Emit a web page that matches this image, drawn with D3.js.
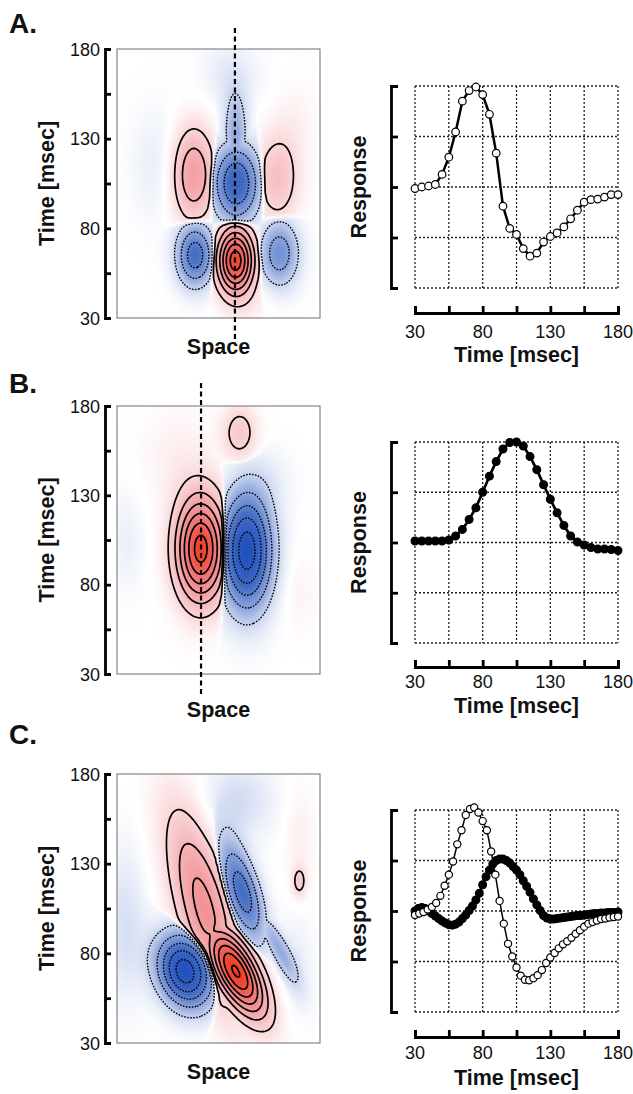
<!DOCTYPE html>
<html>
<head>
<meta charset="utf-8">
<script src="https://cdn.jsdelivr.net/npm/d3@7"></script>
<style>
  body { margin: 0; background: #fff; }
  text { font-family: "Liberation Sans", Arial, Helvetica, sans-serif; fill: #111; }
</style>
</head>
<body>
<svg id="fig" width="633" height="1094"></svg>
<script>
// ---- data ----
var timeTicks = [30, 80, 130, 180];               // labelled ticks (msec)
var timeMinor = [30, 55, 80, 105, 130, 155, 180]; // all ticks / grid lines
var responseTicks = [-2, -1, 0, 1, 2];           // unlabelled response axis

// A: response at the dashed line (open circles, every 5 msec)
var timesA = d3.range(30, 181, 5);
var respA = [-0.03, 0.00, 0.02, 0.05, 0.25, 0.59, 1.09, 1.70, 1.91, 1.98, 1.83,
             1.44, 0.67, -0.38, -0.82, -0.94, -1.22, -1.37, -1.31, -1.09, -0.98,
             -0.91, -0.79, -0.63, -0.46, -0.30, -0.25, -0.24, -0.20, -0.15, -0.15];

// B: filled circles, every 5 msec
var timesB = d3.range(30, 181, 5);
var respB = [0.03, 0.03, 0.03, 0.03, 0.03, 0.05, 0.13, 0.26, 0.46, 0.69, 1.00,
             1.32, 1.61, 1.86, 1.99, 2.00, 1.92, 1.71, 1.45, 1.15, 0.86,
             0.59, 0.34, 0.13, 0.01, -0.05, -0.10, -0.13, -0.13, -0.14, -0.16];

// C: open circles (3.125 msec steps) and filled circles (2.5 msec steps)
var timesCopen = d3.range(49).map(function(i) { return 30 + i * 3.125; });
var respCopen = [-0.08, -0.05, -0.02, 0.03, 0.08, 0.16, 0.30, 0.50, 0.72, 0.98,
                 1.32, 1.60, 1.90, 2.02, 2.05, 1.95, 1.78, 1.60, 1.18, 0.72,
                 0.20, -0.25, -0.65, -0.90, -1.12, -1.28, -1.36, -1.37, -1.33, -1.27,
                 -1.17, -1.03, -0.92, -0.83, -0.74, -0.66, -0.60, -0.53, -0.45, -0.38,
                 -0.31, -0.25, -0.22, -0.19, -0.16, -0.15, -0.13, -0.12, -0.11];
var timesCfill = d3.range(61).map(function(i) { return 30 + i * 2.5; });
var respCfill = [0.00, 0.05, 0.07, 0.05, 0.00, -0.05, -0.10, -0.15, -0.20, -0.24,
                 -0.27, -0.28, -0.26, -0.22, -0.15, -0.08, 0.01, 0.10, 0.22, 0.35,
                 0.52, 0.68, 0.81, 0.93, 1.00, 1.03, 1.03, 1.00, 0.95, 0.88,
                 0.81, 0.72, 0.60, 0.49, 0.37, 0.24, 0.12, 0.01, -0.09, -0.14,
                 -0.16, -0.16, -0.15, -0.14, -0.13, -0.12, -0.11, -0.10, -0.09, -0.09,
                 -0.08, -0.07, -0.06, -0.05, -0.05, -0.04, -0.04, -0.03, -0.03, -0.03, -0.02];

// receptive-field lobes: [space (0-1), time (msec), sd space, sd time, tilt rho, amplitude]
var lobesA = [
  [0.584, 62, 0.062, 12.5, 0, 0.92],
  [0.385, 65, 0.063, 12, 0, -0.50],
  [0.800, 66, 0.068, 13, 0, -0.36],
  [0.588, 105, 0.080, 15, 0, -0.56],
  [0.585, 132, 0.042, 16, 0, -0.25],
  [0.376, 110, 0.072, 18, 0, 0.40],
  [0.790, 108, 0.074, 17, 0, 0.24]
];
var lobesB = [
  [0.413, 100, 0.083, 20, 0, 0.90],
  [0.640, 99, 0.086, 22.4, 0, -0.78],
  [0.605, 165, 0.060, 10.7, 0, 0.20]
];
var lobesC = [
  [0.585, 70, 0.100, 17, -0.65, 1.00],
  [0.430, 105, 0.120, 36, -0.65, 0.47],
  [0.335, 70, 0.095, 14, -0.20, -0.78],
  [0.618, 114, 0.075, 19, -0.60, -0.50],
  [0.790, 84, 0.070, 14, -0.85, -0.24],
  [0.898, 120, 0.025, 6, 0, 0.18]
];
// faint background tints, simply added on top: same columns as the lobes
var tintsA = [
  [0.200, 115, 0.090, 22, 0, -0.06],
  [0.560, 165, 0.100, 14, 0, -0.07],
  [0.880, 140, 0.070, 15, 0, 0.04],
  [0.650, 38, 0.080, 8, 0, 0.04]
];
var tintsB = [
  [0.300, 150, 0.120, 20, 0, 0.05],
  [0.050, 105, 0.060, 20, 0, -0.05],
  [0.900, 75, 0.060, 15, 0, 0.04],
  [0.760, 140, 0.080, 12, 0, -0.04]
];
var tintsC = [
  [0.600, 165, 0.120, 15, 0, -0.11],
  [0.040, 95, 0.070, 30, 0, -0.10],
  [0.880, 72, 0.060, 20, 0, -0.06],
  [0.900, 145, 0.050, 20, 0, 0.05]
];

var contourLevels = [0.14, 0.28, 0.42, 0.56, 0.70, 0.84, 0.98];

// ---- layout ----
var rows = [
  { name: "A.", letterY: 33, heatTop: 49, heatBot: 318, dashS: 0.581, dashY: [28, 343], spaceY: 354,
    gridTop: 86, gridBot: 288, axisY: 313, tickLabY: 338, titleY: 362, lobes: lobesA, tints: tintsA,
    series: [{ t: timesA, v: respA, open: true, lw: 2.5, r: 3.8 }] },
  { name: "B.", letterY: 393, heatTop: 406, heatBot: 674, dashS: 0.414, dashY: [383, 695], spaceY: 717,
    gridTop: 442, gridBot: 643, axisY: 667, tickLabY: 688, titleY: 713, lobes: lobesB, tints: tintsB,
    series: [{ t: timesB, v: respB, open: false, lw: 2.7, r: 3.9 }] },
  { name: "C.", letterY: 744, heatTop: 774, heatBot: 1043, dashS: null, spaceY: 1079,
    gridTop: 810, gridBot: 1012, axisY: 1037, tickLabY: 1059, titleY: 1085, lobes: lobesC, tints: tintsC,
    series: [{ t: timesCfill, v: respCfill, open: false, lw: 2.7, r: 3.9 },
             { t: timesCopen, v: respCopen, open: true, lw: 1.5, r: 3.6 }] }
];

var heatX0 = 117, heatX1 = 320, heatAxisX = 105;
var lineX0 = 415, lineX1 = 618, bracketX = 391;

var svg = d3.select("#fig");

var color = d3.scaleLinear()
  .domain([-0.8, -0.5, -0.25, -0.1, 0, 0.1, 0.3, 0.6, 0.95])
  .range(["#1c4dbc", "#416ac3", "#93a9de", "#d8e0f3", "#ffffff", "#fbdfe1", "#f5b1b5", "#f07b7e", "#f03a22"])
  .clamp(true);

function lobe(b, s, t) {
  var dx = (s - b[0]) / b[2], dy = (t - b[1]) / b[3], r = b[4];
  var q = (dx * dx - 2 * r * dx * dy + dy * dy) / (2 * (1 - r * r));
  return b[5] * Math.exp(-q);
}

// lobes are blended by their strength so neighbouring lobes meet at a sharp edge
function field(row, s, t) {
  var num = 0, den = 1e-30;
  row.lobes.forEach(function(b) {
    var g = lobe(b, s, t);
    var w = Math.pow(Math.abs(g), 8);
    num += g * w;
    den += w;
  });
  var v = num / den;
  row.tints.forEach(function(b) { v += lobe(b, s, t); });
  return v;
}

function drawHeat(row) {
  var g = svg.append("g");
  var nx = 102, ny = 135;
  var sScale = d3.scaleLinear().domain([0, 1]).range([heatX0, heatX1]);
  var tScale = d3.scaleLinear().domain([30, 180]).range([row.heatBot, row.heatTop]);

  var vals = new Array(nx * ny);
  for (var j = 0; j < ny; j++) {
    for (var i = 0; i < nx; i++) {
      vals[j * nx + i] = field(row, (i + 0.5) / nx, 180 - (j + 0.5) / ny * 150);
    }
  }
  var cw = (heatX1 - heatX0) / nx, ch = (row.heatBot - row.heatTop) / ny;
  g.selectAll("rect.cell").data(vals).join("rect")
    .attr("class", "cell")
    .attr("x", function(d, k) { return sScale((k % nx) / nx); })
    .attr("y", function(d, k) { return tScale(180 - Math.floor(k / nx) / ny * 150); })
    .attr("width", cw + 0.5)
    .attr("height", ch + 0.5)
    .attr("fill", function(d) { return color(d); });

  // contour lines: solid for positive lobes, dotted for negative ones
  var proj = d3.geoTransform({
    point: function(px, py) { this.stream.point(sScale(px / nx), tScale(180 - py / ny * 150)); }
  });
  var path = d3.geoPath(proj);
  var contours = d3.contours().size([nx, ny]).thresholds(contourLevels);

  g.selectAll("path.pos").data(contours(vals)).join("path")
    .attr("class", "pos")
    .attr("d", path)
    .attr("fill", "none").attr("stroke", "#000").attr("stroke-width", 1.7)
    .attr("stroke-linejoin", "round");
  g.selectAll("path.neg").data(contours(vals.map(function(v) { return -v; }))).join("path")
    .attr("class", "neg")
    .attr("d", path)
    .attr("fill", "none").attr("stroke", "#000").attr("stroke-width", 1.4)
    .attr("stroke-dasharray", "1.6,1.4");

  // frame
  g.append("rect")
    .attr("x", heatX0).attr("y", row.heatTop)
    .attr("width", heatX1 - heatX0).attr("height", row.heatBot - row.heatTop)
    .attr("fill", "none").attr("stroke", "#6f6f6f").attr("stroke-width", 1);

  // time axis (bracket with inward ticks)
  var axis = g.append("g")
    .attr("transform", "translate(" + heatAxisX + ",0)")
    .call(d3.axisRight(tScale).tickValues(timeMinor).tickSize(6).tickSizeOuter(6).tickFormat(""));
  axis.selectAll("path, line").attr("stroke", "#000").attr("stroke-width", 2.8);

  g.selectAll("text.tl").data(timeTicks).join("text")
    .attr("class", "tl")
    .attr("x", 100).attr("y", function(d) { return tScale(d) + 6.5; })
    .attr("text-anchor", "end").attr("font-size", 18)
    .text(function(d) { return d; });

  g.append("text")
    .attr("transform", "translate(54," + (row.heatTop + row.heatBot) / 2 + ") rotate(-90)")
    .attr("text-anchor", "middle").attr("font-size", 21.5).attr("font-weight", "bold")
    .text("Time [msec]");

  g.append("text")
    .attr("x", (heatX0 + heatX1) / 2).attr("y", row.spaceY)
    .attr("text-anchor", "middle").attr("font-size", 21.5).attr("font-weight", "bold")
    .text("Space");

  if (row.dashS !== null) {
    g.append("line")
      .attr("x1", sScale(row.dashS)).attr("x2", sScale(row.dashS))
      .attr("y1", row.dashY[0]).attr("y2", row.dashY[1])
      .attr("stroke", "#000").attr("stroke-width", 2.2).attr("stroke-dasharray", "5,3.5");
  }

  svg.append("text")
    .attr("x", 9).attr("y", row.letterY)
    .attr("font-size", 28).attr("font-weight", "bold")
    .text(row.name);
}

function drawLine(row) {
  var g = svg.append("g");
  var x = d3.scaleLinear().domain([30, 180]).range([lineX0, lineX1]);
  var y = d3.scaleLinear().domain([-2, 2]).range([row.gridBot, row.gridTop]);

  // dotted grid
  g.selectAll("line.hg").data(responseTicks).join("line")
    .attr("class", "hg")
    .attr("x1", lineX0).attr("x2", lineX1)
    .attr("y1", function(d) { return y(d); }).attr("y2", function(d) { return y(d); })
    .attr("stroke", "#222").attr("stroke-width", 1.3).attr("stroke-dasharray", "2,2");
  g.selectAll("line.vg").data(timeMinor).join("line")
    .attr("class", "vg")
    .attr("x1", function(d) { return x(d); }).attr("x2", function(d) { return x(d); })
    .attr("y1", row.gridTop).attr("y2", row.gridBot)
    .attr("stroke", "#222").attr("stroke-width", 1.3).attr("stroke-dasharray", "2,2");

  // response bracket
  var ya = g.append("g")
    .attr("transform", "translate(" + bracketX + ",0)")
    .call(d3.axisRight(y).tickValues(responseTicks).tickSize(7).tickSizeOuter(7).tickFormat(""));
  ya.selectAll("path, line").attr("stroke", "#000").attr("stroke-width", 2.8);

  // time axis
  var xa = g.append("g")
    .attr("transform", "translate(0," + row.axisY + ")")
    .call(d3.axisTop(x).tickValues(timeMinor).tickSize(7).tickSizeOuter(7).tickFormat(""));
  xa.selectAll("path, line").attr("stroke", "#000").attr("stroke-width", 2.8);

  g.selectAll("text.xl").data(timeTicks).join("text")
    .attr("class", "xl")
    .attr("x", function(d) { return x(d); }).attr("y", row.tickLabY)
    .attr("text-anchor", "middle").attr("font-size", 18)
    .text(function(d) { return d; });

  g.append("text")
    .attr("x", (lineX0 + lineX1) / 2).attr("y", row.titleY)
    .attr("text-anchor", "middle").attr("font-size", 21.5).attr("font-weight", "bold")
    .text("Time [msec]");

  g.append("text")
    .attr("transform", "translate(366," + (row.gridTop + row.gridBot) / 2 + ") rotate(-90)")
    .attr("text-anchor", "middle").attr("font-size", 21.5).attr("font-weight", "bold")
    .text("Response");

  row.series.forEach(function(s) {
    var pts = s.t.map(function(t, i) { return [t, s.v[i]]; });
    var line = d3.line().x(function(d) { return x(d[0]); }).y(function(d) { return y(d[1]); });
    g.append("path").datum(pts)
      .attr("d", line).attr("fill", "none")
      .attr("stroke", "#000").attr("stroke-width", s.lw).attr("stroke-linejoin", "round");
    g.selectAll(null).data(pts).join("circle")
      .attr("cx", function(d) { return x(d[0]); })
      .attr("cy", function(d) { return y(d[1]); })
      .attr("r", s.r)
      .attr("fill", s.open ? "#fff" : "#000")
      .attr("stroke", "#000").attr("stroke-width", 1.2);
  });
}

rows.forEach(function(row) {
  drawHeat(row);
  drawLine(row);
});
</script>
</body>
</html>
